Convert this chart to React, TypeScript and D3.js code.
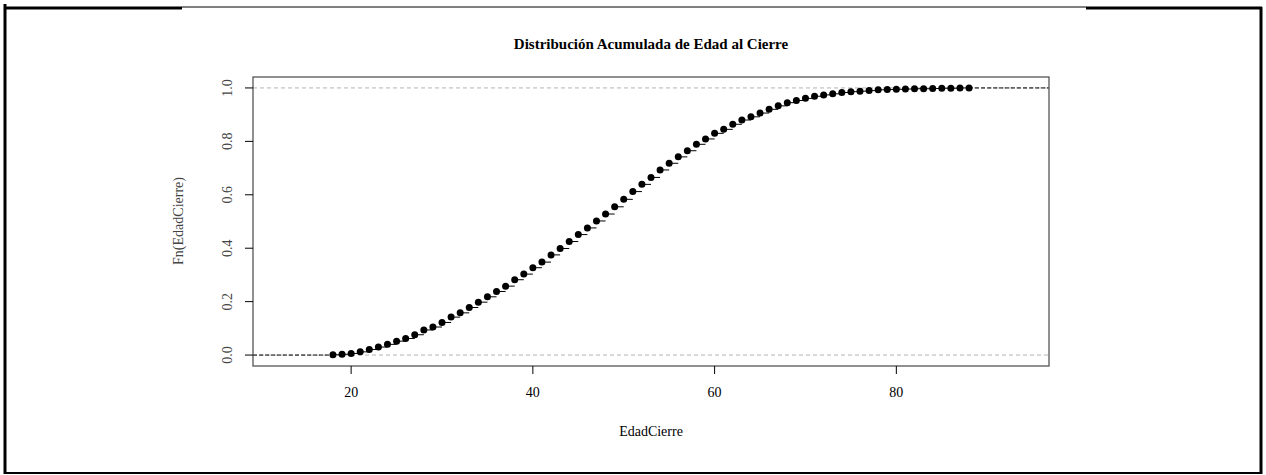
import React from 'react';
import * as d3 from 'd3';

const ages = [
  18, 19, 20, 21, 22, 23, 24, 25, 26, 27, 28, 29, 30, 31, 32, 33, 34, 35, 36, 37,
  38, 39, 40, 41, 42, 43, 44, 45, 46, 47, 48, 49, 50, 51, 52, 53, 54, 55, 56, 57,
  58, 59, 60, 61, 62, 63, 64, 65, 66, 67, 68, 69, 70, 71, 72, 73, 74, 75, 76, 77,
  78, 79, 80, 81, 82, 83, 84, 85, 86, 87, 88,
];
const fn = [
  0.001, 0.003, 0.006, 0.012, 0.021, 0.030, 0.040, 0.052, 0.062, 0.076,
  0.094, 0.105, 0.122, 0.142, 0.158, 0.178, 0.198, 0.218, 0.238, 0.258,
  0.282, 0.303, 0.327, 0.348, 0.375, 0.399, 0.425, 0.451, 0.476, 0.502,
  0.528, 0.555, 0.583, 0.612, 0.639, 0.665, 0.693, 0.718, 0.742, 0.765,
  0.789, 0.809, 0.830, 0.845, 0.864, 0.880, 0.892, 0.906, 0.920, 0.933,
  0.945, 0.953, 0.961, 0.969, 0.974, 0.978, 0.983, 0.986, 0.988, 0.990,
  0.993, 0.994, 0.995, 0.996, 0.997, 0.997, 0.998, 0.999, 0.999, 1.0, 1.0,
];
const xTicks = [20, 40, 60, 80];
const yTicks = [0, 0.2, 0.4, 0.6, 0.8, 1.0];

const W = 1266;
const H = 475;
const box = { left: 253, right: 1049, top: 77, bottom: 366 };
const font = '"Liberation Serif", "DejaVu Serif", serif';

export default function App() {
  const x = d3.scaleLinear().domain([9.2, 96.8]).range([box.left, box.right]);
  const y = d3.scaleLinear().domain([-0.041, 1.041]).range([box.bottom, box.top]);

  const steps = ages.slice(0, -1).map((a, i) => ({ x1: a, x2: ages[i + 1], v: fn[i] }));

  return (
    <div style={{ position: 'absolute', left: 0, top: 0 }}>
      <svg width={W} height={H} style={{ display: 'block', background: '#fff' }}>
        {/* marco exterior */}
        <line x1={5} y1={4} x2={5} y2={474} stroke="#000" strokeWidth={3} />
        <line x1={1261} y1={7} x2={1261} y2={474} stroke="#000" strokeWidth={3} />
        <line x1={4} y1={8} x2={182} y2={8} stroke="#000" strokeWidth={3} />
        <line x1={182} y1={7} x2={1086} y2={7} stroke="#000" strokeWidth={1} />
        <line x1={1086} y1={8} x2={1262} y2={8} stroke="#000" strokeWidth={3} />
        <line x1={4} y1={473} x2={1262} y2={473} stroke="#000" strokeWidth={2} />

        <text x={651} y={49} textAnchor="middle" fontFamily={font} fontWeight="bold" fontSize={15}>
          Distribución Acumulada de Edad al Cierre
        </text>

        {/* líneas guía en 0 y 1 */}
        {[0, 1].map(v => (
          <line key={v} x1={box.left} x2={box.right} y1={y(v)} y2={y(v)}
            stroke="#b3b3b3" strokeDasharray="4,3" strokeWidth={1} />
        ))}

        {/* extensiones */}
        <line x1={box.left} x2={x(ages[0])} y1={y(0)} y2={y(0)} stroke="#000" strokeDasharray="4,2" />
        <line x1={x(ages[ages.length - 1])} x2={box.right} y1={y(1)} y2={y(1)} stroke="#000" strokeDasharray="4,2" />

        {steps.map((s, i) => (
          <line key={i} x1={x(s.x1)} x2={x(s.x2)} y1={y(s.v)} y2={y(s.v)} stroke="#000" strokeWidth={1} />
        ))}
        {ages.map((a, i) => (
          <circle key={a} cx={x(a)} cy={y(fn[i])} r={3.5} fill="#000" />
        ))}

        <rect x={box.left} y={box.top} width={box.right - box.left} height={box.bottom - box.top}
          fill="none" stroke="#555" strokeWidth={1.3} />

        {/* eje x */}
        {xTicks.map(t => (
          <g key={t}>
            <line x1={x(t)} x2={x(t)} y1={box.bottom} y2={box.bottom + 8} stroke="#000" />
            <text x={x(t)} y={397} textAnchor="middle" fontFamily={font} fontSize={14}>{t}</text>
          </g>
        ))}
        <text x={651} y={436} textAnchor="middle" fontFamily={font} fontSize={14}>EdadCierre</text>

        {/* eje y */}
        {yTicks.map(t => (
          <g key={t}>
            <line x1={box.left - 8} x2={box.left} y1={y(t)} y2={y(t)} stroke="#000" />
            <text transform={`translate(232,${y(t)}) rotate(-90)`} textAnchor="middle"
              fontFamily={font} fontSize={14} fill="#444">{d3.format('.1f')(t)}</text>
          </g>
        ))}
        <text transform={`translate(183,221) rotate(-90)`} textAnchor="middle"
          fontFamily={font} fontSize={14} fill="#444">Fn(EdadCierre)</text>
      </svg>
    </div>
  );
}
